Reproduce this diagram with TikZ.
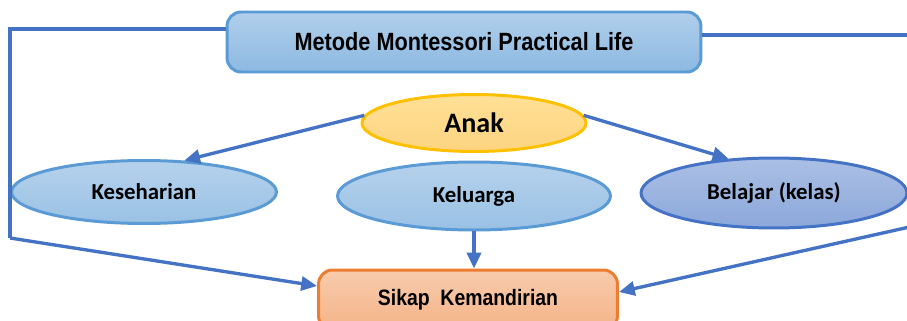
\documentclass[tikz,border=0pt]{standalone}
\usepackage{fontspec}
\setmainfont{Carlito}
\newfontfamily\narrowfont[FakeStretch=0.87]{Liberation Sans}
\usepackage{xcolor}
\usepackage{tikz}
\usetikzlibrary{shapes,arrows.meta,positioning}
\definecolor{lineblue}{RGB}{68,114,196}
\definecolor{edgeblue}{RGB}{91,155,213}
\definecolor{goldline}{RGB}{255,192,0}
\definecolor{orangeline}{RGB}{237,125,49}
\definecolor{anaktop}{RGB}{255,224,150}
\definecolor{anakbottom}{RGB}{253,212,128}

\begin{document}
\begin{tikzpicture}[x=0.02cm, y=-0.02cm,
    conn/.style={draw=lineblue, line width=1.9pt, -{Triangle[length=9pt,width=8pt]}},
    link/.style={draw=lineblue, line width=1.9pt},
    blueoval/.style={ellipse, draw=edgeblue, line width=1.7pt, inner sep=0pt,
        top color=edgeblue!45!white, bottom color=edgeblue!62!white, font=\bfseries\fontsize{13pt}{15pt}\selectfont}]
    \useasboundingbox (0,0) rectangle (907,321);
    \node[draw=edgeblue, line width=1.7pt, rounded corners=8pt, top color=edgeblue!48!white, bottom color=edgeblue!70!white,
        minimum width=9.48cm, minimum height=1.2cm, font=\narrowfont\bfseries\fontsize{14.2pt}{16pt}\selectfont] (metode) at (464,42) {Metode Montessori Practical Life};
    \node[ellipse, draw=goldline, line width=1.7pt, inner sep=0pt, top color=anaktop, bottom color=anakbottom,
        minimum width=4.48cm, minimum height=1.14cm, font=\bfseries\fontsize{16pt}{18pt}\selectfont] (anak) at (474,123) {Anak};
    \node[blueoval, minimum width=5.3cm, minimum height=1.26cm] (keseharian) at (144,192) {Keseharian};
    \node[blueoval, minimum width=5.46cm, minimum height=1.36cm] (keluarga) at (474,196) {Keluarga};
    \node[blueoval, draw=lineblue, top color=lineblue!45!white, bottom color=lineblue!62!white,
        minimum width=5.32cm, minimum height=1.4cm] (belajar) at (774,193) {Belajar (kelas)};
    \node[draw=orangeline, line width=1.7pt, rounded corners=8pt, top color=orangeline!40!white, bottom color=orangeline!58!white,
        minimum width=5.98cm, minimum height=1.2cm, font=\narrowfont\bfseries\fontsize{12.7pt}{15pt}\selectfont] (sikap) at (468,300) {Sikap~~Kemandirian};
    % side lines
    \coordinate (lefttop) at (10,29);
    \coordinate (leftbot) at (10,238);
    \coordinate (righttop) at (914,35);
    \coordinate (rightbot) at (914,226);
    \draw[link] (metode.west |- lefttop) -- (lefttop) -- (leftbot);
    \draw[conn] (leftbot) -- (sikap.west |- 0,286);
    \draw[link] (metode.east |- righttop) -- (righttop) -- (rightbot);
    \draw[conn] (rightbot) -- (sikap.east |- 0,292);
    % arrows
    \draw[conn] (anak.176) -- (keseharian.38);
    \draw[conn] (anak.4) -- (belajar.143);
    \draw[conn] (keluarga.south) -- (keluarga.south |- sikap.north);
\end{tikzpicture}
\end{document}
